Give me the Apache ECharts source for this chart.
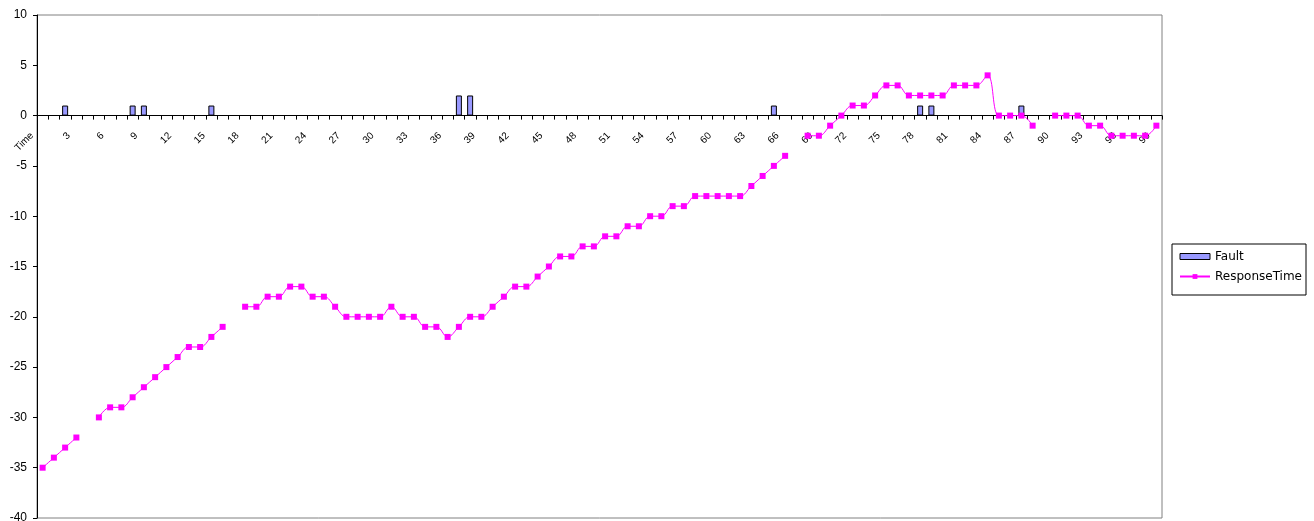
<!DOCTYPE html>
<html>
<head>
<meta charset="utf-8">
<script src="https://cdn.jsdelivr.net/npm/echarts@6/dist/echarts.min.js"></script>
<style>
html,body{margin:0;padding:0;background:#fff;}
#c{width:1314px;height:521px;}
</style>
</head>
<body>
<div id="c"></div>
<script>
// categories 1..100 (time steps)
var categories = [];
for (var i = 1; i <= 100; i++) categories.push(String(i));

// Fault occurrences: time step -> value
var faultSteps  = [3, 9, 10, 16, 38, 39, 66, 79, 80, 88];
var faultValues = [1, 1, 1, 1, 2, 2, 1, 1, 1, 1];

// ResponseTime per time step (null = missing)
var responseTime = [
  -35, -34, -33, -32, null, -30, -29, -29, -28, -27,
  -26, -25, -24, -23, -23, -22, -21, null, -19, -19,
  -18, -18, -17, -17, -18, -18, -19, -20, -20, -20,
  -20, -19, -20, -20, -21, -21, -22, -21, -20, -20,
  -19, -18, -17, -17, -16, -15, -14, -14, -13, -13,
  -12, -12, -11, -11, -10, -10, -9, -9, -8, -8,
  -8, -8, -8, -7, -6, -5, -4, null, -2, -2,
  -1, 0, 1, 1, 2, 3, 3, 2, 2, 2,
  2, 3, 3, 3, 4, 0, 0, 0, -1, null,
  0, 0, 0, -1, -1, -2, -2, -2, -2, -1
];

var xAxisTitle = 'Time';
var yMin = -40, yMax = 10, yStep = 5;

var fault = categories.map(function () { return null; });
faultSteps.forEach(function (s, k) { fault[s - 1] = faultValues[k]; });

var gridTop = 15, gridH = 503;
var zeroOffset = gridH * (yMax - 0) / (yMax - yMin); // distance of y=0 from grid top

var chart = echarts.init(document.getElementById('c'), null, {renderer: 'canvas'});
var font = 'Liberation Sans, Arial, sans-serif';
chart.setOption({
  backgroundColor: '#fff',
  animation: false,
  textStyle: {fontFamily: font},
  grid: {left: 37, top: gridTop, width: 1125, height: gridH, show: true, borderColor: '#808080', borderWidth: 1,
         backgroundColor: 'transparent', containLabel: false, outerBoundsMode: 'none'},
  legend: {
    orient: 'vertical', left: 1172, top: 244,
    borderColor: '#000', borderWidth: 1, padding: [5, 4, 11, 7],
    itemGap: 5, itemWidth: 30, itemHeight: 6,
    textStyle: {fontFamily: 'DejaVu Sans', fontSize: 12, lineHeight: 15, color: '#000'},
    data: [{name: 'Fault', icon: 'rect', itemStyle: {borderWidth: 1, borderColor: '#000'}}, {name: 'ResponseTime'}]
  },
  graphic: [{
    type: 'text', x: 32, y: 134, rotation: Math.PI / 4, silent: true,
    style: {text: xAxisTitle, font: '10px Liberation Sans, Arial, sans-serif', fill: '#000', align: 'right', verticalAlign: 'middle'}
  }],
  xAxis: {
    type: 'category', data: categories, z: 3,
    position: 'top', offset: -zeroOffset,
    axisLine: {onZero: false, lineStyle: {color: '#000', width: 1}},
    axisTick: {show: true, inside: true, interval: 0, length: 4, lineStyle: {color: '#000'}},
    axisLabel: {
      inside: true, rotate: -45, fontSize: 10, color: '#000', fontFamily: font, margin: 15,
      verticalAlign: 'top',
      interval: function (idx) { return (idx + 1) % 3 === 0; }
    },
    splitLine: {show: false}
  },
  yAxis: {
    type: 'value', min: yMin, max: yMax, interval: yStep,
    axisLine: {show: true, lineStyle: {color: '#000', width: 1}},
    axisTick: {show: true, length: 4, lineStyle: {color: '#000'}},
    axisLabel: {fontSize: 12, color: '#000', fontFamily: font, margin: 10},
    splitLine: {show: false}
  },
  series: [
    {
      name: 'Fault', type: 'bar', data: fault, barWidth: 6,
      itemStyle: {color: '#9999FF', borderColor: '#000', borderWidth: 1}
    },
    {
      name: 'ResponseTime', type: 'line', data: responseTime, smooth: 0.4,
      connectNulls: false, symbol: 'rect', symbolSize: 6, showAllSymbol: true,
      lineStyle: {color: '#FF00FF', width: 1},
      itemStyle: {color: '#FF00FF'}
    }
  ]
});
</script>
</body>
</html>
